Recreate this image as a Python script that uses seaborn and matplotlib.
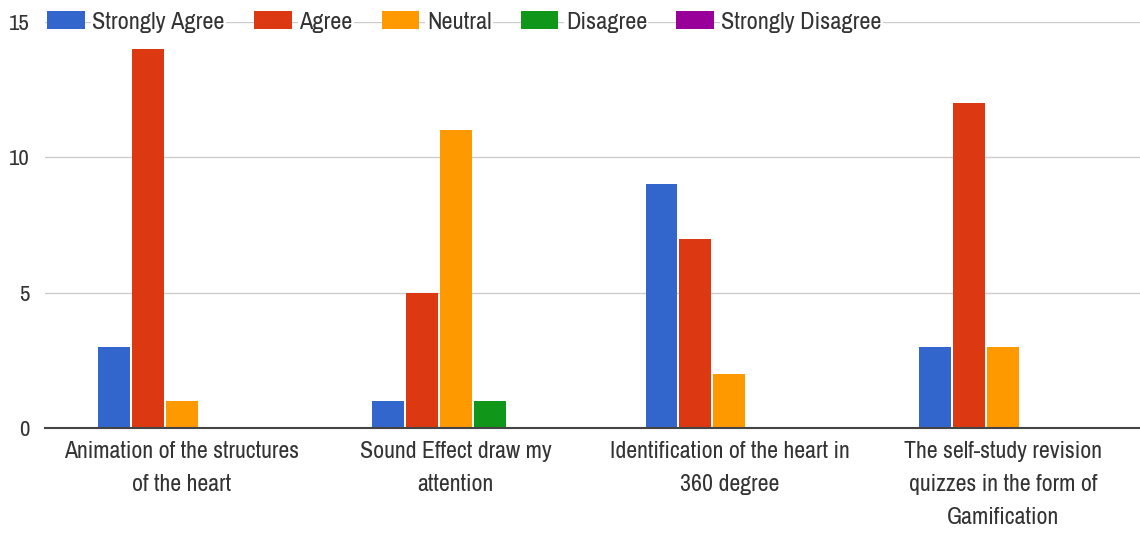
import matplotlib
matplotlib.use("Agg")
import matplotlib.pyplot as plt
import seaborn as sns
import pandas as pd

categories = [
    "Animation of the structures\nof the heart",
    "Sound Effect draw my\nattention",
    "Identification of the heart in\n360 degree",
    "The self-study revision\nquizzes in the form of\nGamification",
]
responses = ["Strongly Agree", "Agree", "Neutral", "Disagree", "Strongly Disagree"]
strongly_agree = [3, 1, 9, 3]
agree = [14, 5, 7, 12]
neutral = [1, 11, 2, 3]
disagree = [0, 1, 0, 0]
strongly_disagree = [0, 0, 0, 0]
y_ticks = [0, 5, 10, 15]

colors = ["#3366cc", "#dc3912", "#ff9900", "#109618", "#990099"]

sns.set_theme(style="white")
plt.rcParams["font.family"] = ["Archivo Narrow", "DejaVu Sans"]
text_color = "#333333"

rows = []
for resp, vals in zip(responses, [strongly_agree, agree, neutral, disagree, strongly_disagree]):
    for cat, v in zip(categories, vals):
        rows.append({"Item": cat, "Response": resp, "Count": v})
df = pd.DataFrame(rows)

fig = plt.figure(figsize=(11.4, 5.37), dpi=100)
ax = fig.add_axes([45 / 1140, 109 / 537, 1095 / 1140, 406 / 537])

sns.barplot(data=df, x="Item", y="Count", hue="Response", hue_order=responses,
            palette=colors, saturation=1, width=0.62, gap=0.06, linewidth=0,
            ax=ax, order=categories, legend=True)

ax.set_ylim(0, 15)
ax.set_yticks(y_ticks)
ax.set_xlim(-0.5, 3.5)
ax.set_xlabel("")
ax.set_ylabel("")
ax.yaxis.grid(True, color="#cccccc", linewidth=1)
ax.set_axisbelow(True)
for s in ["top", "right", "left"]:
    ax.spines[s].set_visible(False)
ax.spines["bottom"].set_color("#444444")
ax.spines["bottom"].set_linewidth(1.5)
ax.spines["bottom"].set_zorder(3)
ax.tick_params(axis="both", length=0, colors=text_color)
ax.tick_params(axis="x", labelsize=17.2, pad=9)
ax.tick_params(axis="y", labelsize=16.5, pad=11)
for lab in ax.get_xticklabels():
    lab.set_linespacing(1.72)
    lab.set_horizontalalignment("center")

handles, labels = ax.get_legend_handles_labels()
ax.legend_.remove()
leg = ax.legend(handles, labels, loc="center left", bbox_to_anchor=(0.002, 1.0),
                ncol=5, frameon=False, fontsize=17.5, handlelength=1.56,
                handleheight=0.72, handletextpad=0.3, columnspacing=1.2,
                borderpad=0, borderaxespad=0)
for t in leg.get_texts():
    t.set_color(text_color)
    t.set_bbox(dict(facecolor="white", edgecolor="none", pad=1))

fig.savefig("out.png", dpi=100)
